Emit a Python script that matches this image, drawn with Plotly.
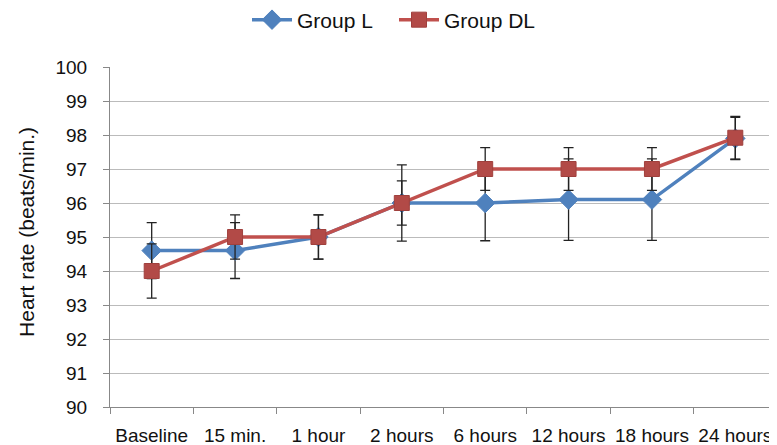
import plotly.graph_objects as go

categories = ["Baseline", "15 min.", "1 hour", "2 hours", "6 hours", "12 hours", "18 hours", "24 hours"]
group_l = [94.6, 94.6, 95.0, 96.0, 96.0, 96.1, 96.1, 97.9]
group_l_err = [0.82, 0.82, 0.65, 1.12, 1.11, 1.2, 1.2, 0.62]
group_dl = [94.0, 95.0, 95.0, 96.0, 97.0, 97.0, 97.0, 97.92]
group_dl_err = [0.8, 0.65, 0.65, 0.65, 0.63, 0.63, 0.63, 0.63]
y_ticks = list(range(90, 101))

FONT = "Liberation Sans, Arial, sans-serif"

fig = go.Figure()
fig.add_trace(go.Scatter(
    x=categories, y=group_l, name="Group L", mode="lines+markers",
    line=dict(color="#4F81BD", width=3.5),
    marker=dict(symbol="diamond", size=15, color="#4F81BD", line=dict(color="#4F81BD", width=1)),
    error_y=dict(type="data", array=group_l_err, visible=True, color="#222222", thickness=1.3, width=5),
))
fig.add_trace(go.Scatter(
    x=categories, y=group_dl, name="Group DL", mode="lines+markers",
    line=dict(color="#C0504D", width=3.5),
    marker=dict(symbol="square", size=15, color="#B24A47", line=dict(color="#A0403D", width=1)),
    error_y=dict(type="data", array=group_dl_err, visible=True, color="#222222", thickness=1.3, width=5),
))

# the page body adds an 8px offset; margins compensate so the plot area sits at x 110-777, y 67-407
fig.update_layout(
    width=777, height=445,
    margin=dict(l=102, r=8, t=59, b=46, autoexpand=False),
    paper_bgcolor="white", plot_bgcolor="white",
    font=dict(family=FONT, size=19, color="#111111"),
    showlegend=True,
    legend=dict(orientation="h", x=0.3076, xref="container", xanchor="left",
                y=0.973, yref="container", yanchor="middle",
                font=dict(size=21), itemwidth=40, entrywidth=92, entrywidthmode="pixels",
                bgcolor="rgba(0,0,0,0)"),
    annotations=[dict(
        text="Heart rate (beats/min.)", textangle=-90, showarrow=False,
        xref="paper", yref="paper", x=-0.126, y=0.5147, xanchor="center", yanchor="middle",
        font=dict(size=21, family=FONT, color="#111111"),
    )],
)
fig.update_xaxes(
    type="category", categoryorder="array", categoryarray=categories,
    tickson="boundaries", ticks="outside", ticklen=6, tickcolor="#888888",
    showline=True, linecolor="#888888", linewidth=1, showgrid=False,
    tickfont=dict(size=19), tickangle=0, range=[-0.5, 7.5], automargin=False,
    ticklabelstandoff=11,
)
fig.update_yaxes(
    range=[90, 100], tickvals=y_ticks, ticks="outside", ticklen=6, tickcolor="#888888",
    showline=True, linecolor="#888888", linewidth=1,
    showgrid=True, gridcolor="#BBBBBB", gridwidth=1.2,
    tickfont=dict(size=19), zeroline=False, automargin=False,
    ticklabelstandoff=12,
)

fig.write_html("out.html")
